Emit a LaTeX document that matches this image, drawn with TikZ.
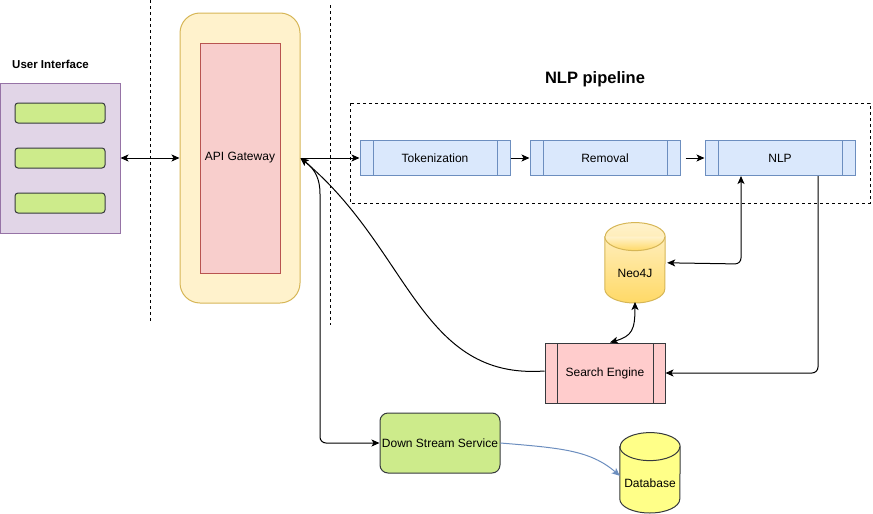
\documentclass[tikz,border=0pt]{standalone}
\usepackage{fontspec}
\setmainfont{Liberation Sans}
\usetikzlibrary{arrows.meta}
\definecolor{uiFill}{HTML}{E1D5E7}
\definecolor{uiLine}{HTML}{9673A6}
\definecolor{greenFill}{HTML}{CDEB8B}
\definecolor{darkLine}{HTML}{36393D}
\definecolor{gwFill}{HTML}{FFF2CC}
\definecolor{gwLine}{HTML}{D6B656}
\definecolor{redFill}{HTML}{F8CECC}
\definecolor{redLine}{HTML}{B85450}
\definecolor{seFill}{HTML}{FFCCCC}
\definecolor{blueFill}{HTML}{DAE8FC}
\definecolor{blueLine}{HTML}{6C8EBF}
\definecolor{neoTop}{HTML}{FFF2CC}
\definecolor{neoBot}{HTML}{FFD966}
\definecolor{dbFill}{HTML}{FFFF88}
% drum around a named node: \drum[style](node)
\def\drum[#1](#2){\draw[line width=1pt, #1] ([yshift=-14pt]#2.north west) -- ([yshift=14pt]#2.south west) arc[start angle=180, end angle=360, x radius=30pt, y radius=14pt] -- ([yshift=-14pt]#2.north east) arc[start angle=0, end angle=180, x radius=30pt, y radius=14pt] -- cycle;
	\draw[line width=1pt, #1, fill=none] ([yshift=-14pt]#2.north west) arc[start angle=180, end angle=360, x radius=30pt, y radius=14pt];}
\tikzset{
	every node/.style={font=\fontsize{12}{14}\selectfont, inner sep=0pt},
	procbox/.style 2 args={draw=#1, line width=1pt, path picture={
		\draw[#1, line width=1pt] ([xshift=#2]path picture bounding box.north west) -- ([xshift=#2]path picture bounding box.south west);
		\draw[#1, line width=1pt] ([xshift=-#2]path picture bounding box.north east) -- ([xshift=-#2]path picture bounding box.south east);}},
	dbbox/.style={minimum width=60pt, minimum height=80pt, anchor=south},
	link/.style={line width=1pt, -{Stealth[length=8pt,width=7pt,inset=2pt]}},
	dlink/.style={line width=1pt, {Stealth[length=8pt,width=7pt,inset=2pt]}-{Stealth[length=8pt,width=7pt,inset=2pt]}},
	sepline/.style={line width=1pt, dash pattern=on 3pt off 3pt}
}
\begin{document}
\begin{tikzpicture}[x=1pt, y=-1pt]
			%%%%% START %%%%%
			\useasboundingbox (0,0) rectangle (873,514);
			
			\draw[sepline] (150,0) -- (150,323);
			\draw[sepline] (330,5) -- (330,325);
			
			\node[anchor=west, font=\fontsize{11.5}{14}\bfseries] (uititle) at (12,64) {User Interface};
			\node[draw=uiLine, fill=uiFill, line width=1pt, minimum width=120pt, minimum height=150pt] (ui) at (60,158) {};
			\foreach \y/\n in {113/a, 158/b, 203/c}
				\node[draw=darkLine, fill=greenFill, line width=1pt, rounded corners=3pt, minimum width=90pt, minimum height=20pt] (bar\n) at (60,\y) {};
			
			\node[draw=gwLine, fill=gwFill, line width=1pt, rounded corners=20pt, minimum width=120pt, minimum height=290pt] (gw) at (240,158) {};
			\node[draw=redLine, fill=redFill, line width=1pt, minimum width=80pt, minimum height=230pt] (api) at (240,158) {API Gateway};
			
			\node[font=\fontsize{16.5}{20}\bfseries] (nlptitle) at (595,79) {NLP pipeline};
			\draw[sepline] (350,103) rectangle (870,203);
			\node[procbox={blueLine}{13pt}, fill=blueFill, minimum width=150pt, minimum height=35pt] (tok) at (435,158) {Tokenization};
			\node[procbox={blueLine}{13pt}, fill=blueFill, minimum width=150pt, minimum height=35pt] (rem) at (605,158) {Removal};
			\node[procbox={blueLine}{13pt}, fill=blueFill, minimum width=150pt, minimum height=35pt] (nlp) at (780,158) {NLP};
			
			\node[dbbox] (neo) at (635,303) {};
			\drum[draw=gwLine, top color=neoTop, bottom color=neoBot](neo)
			\node (neolabel) at (635,273) {Neo4J};
			\node[procbox={darkLine}{12pt}, fill=seFill, minimum width=120pt, minimum height=60pt] (se) at (605,373) {Search Engine};
			\node[draw=darkLine, fill=greenFill, line width=1pt, rounded corners=8pt, minimum width=120pt, minimum height=60pt] (dss) at (440,443) {Down Stream Service};
			\node[dbbox] (db) at (650,513) {};
			\drum[draw=darkLine, fill=dbFill](db)
			\node (dblabel) at (650,483) {Database};
			
			\draw[dlink] (ui.east) -- (gw.west);
			\draw[link] (gw.east) -- (tok.west);
			\draw[link] (tok.east) -- (rem.west);
			\draw[link] ([xshift=5pt]rem.east) -- (nlp.west);
			\draw[dlink, rounded corners=6pt] ([xshift=-39pt]nlp.south) -- ++(0,88) -- ([xshift=2pt]neo.east);
			\draw[link, rounded corners=6pt] ([xshift=38pt]nlp.south) |- (se.east);
			\draw[dlink] ([xshift=5pt]se.north) .. controls (632,336) and (635,330) .. ([yshift=1pt]neo.south);
			\draw[link] ([yshift=2pt]se.west) .. controls (420,380) and (410,250) .. (gw.east);
			\draw[dlink, rounded corners=6pt] (gw.east) .. controls (316,170) and (320,180) .. (320,200) -- (320,443) -- (dss.west);
			\draw[link, blueLine] (dss.east) .. controls (560,448) and (590,450) .. ([yshift=-3pt]db.west);
			
			%%%%% END %%%%%
\end{tikzpicture}
\end{document}
